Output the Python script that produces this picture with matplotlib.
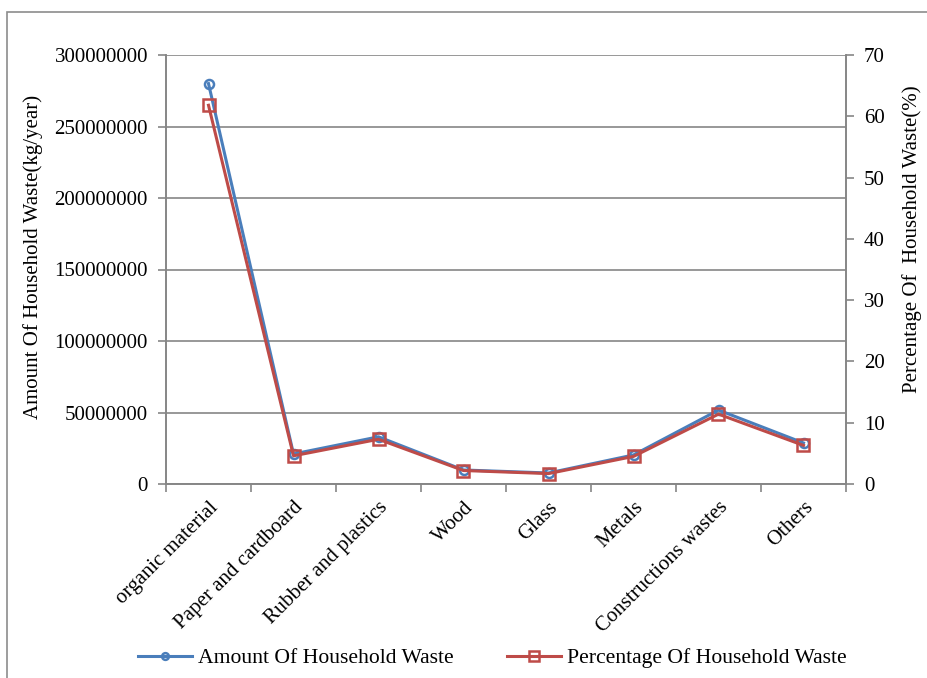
import matplotlib.pyplot as plt
from matplotlib.patches import Rectangle

plt.rcParams["font.family"] = ["Liberation Serif", "DejaVu Serif"]
plt.rcParams["font.size"] = 15

CATEGORIES = [
    "organic material",
    "Paper and cardboard",
    "Rubber and plastics",
    "Wood",
    "Glass",
    "Metals",
    "Constructions wastes",
    "Others",
]
AMOUNT_KG = [280000000, 21000000, 33000000, 9800000, 7700000, 20300000, 51700000, 28700000]
PERCENT = [61.8, 4.6, 7.3, 2.2, 1.7, 4.5, 11.4, 6.3]

AMOUNT_TICKS = [0, 50000000, 100000000, 150000000, 200000000, 250000000, 300000000]
PERCENT_TICKS = [0, 10, 20, 30, 40, 50, 60, 70]

BLUE = "#4a7ebb"
RED = "#be4b48"
GRID = "#868686"

W, H = 927, 678
fig = plt.figure(figsize=(W / 100, H / 100), dpi=100)

# outer frame, open at the right and bottom
fig.patches.append(
    Rectangle((7 / W, -0.05), 1.05, 1.05 - 12 / H, transform=fig.transFigure,
              fill=False, edgecolor="#8c8c8c", linewidth=1.2)
)

left, right, top, bottom = 166, 846, 55, 484
ax = fig.add_axes([left / W, 1 - bottom / H, (right - left) / W, (bottom - top) / H])
ax2 = ax.twinx()

x = list(range(len(CATEGORIES)))
ax.plot(x, AMOUNT_KG, color=BLUE, linewidth=2.2, marker="o", markersize=6.5,
        markerfacecolor="none", markeredgecolor=BLUE, markeredgewidth=1.8,
        label="Amount Of Household Waste", zorder=3)
ax2.plot(x, PERCENT, color=RED, linewidth=2.2, marker="s", markersize=9,
         markerfacecolor="none", markeredgecolor=RED, markeredgewidth=1.8,
         label="Percentage Of Household Waste", zorder=3)

ax.set_xlim(-0.5, len(CATEGORIES) - 0.5)
ax.set_ylim(0, 300000000)
ax2.set_ylim(0, 70)
ax.set_yticks(AMOUNT_TICKS)
ax.set_yticklabels([str(v) for v in AMOUNT_TICKS])
ax2.set_yticks(PERCENT_TICKS)

ax.set_xticks(x)
ax.set_xticklabels(CATEGORIES, rotation=45, ha="right", rotation_mode="anchor")
ax.set_xticks([i - 0.5 for i in range(len(CATEGORIES) + 1)], minor=True)
ax.tick_params(axis="x", which="major", length=0, pad=10)
ax.tick_params(axis="x", which="minor", length=6, width=1.2, color=GRID, direction="out")
ax.tick_params(axis="y", length=6, width=1.2, color=GRID, direction="out", pad=7)
ax2.tick_params(axis="y", length=6, width=1.2, color=GRID, direction="out", pad=7)

ax.grid(axis="y", color=GRID, linewidth=1.2)
ax.set_axisbelow(True)

for a in (ax, ax2):
    a.spines["top"].set_visible(False)
    for s in ("left", "right", "bottom"):
        a.spines[s].set_color(GRID)
        a.spines[s].set_linewidth(1.2)

ax.set_ylabel("Amount Of Household Waste(kg/year)")
ax2.set_ylabel("Percentage Of  Household Waste(%)")
ax.yaxis.set_label_coords((33 - left) / (right - left), 0.53)
ax2.yaxis.set_label_coords((912 - left) / (right - left), 0.57)
ax.yaxis.label.set(va="center")
ax2.yaxis.label.set(va="center")

h1, l1 = ax.get_legend_handles_labels()
h2, l2 = ax2.get_legend_handles_labels()
fig.legend(h1 + h2, l1 + l2, loc="center", bbox_to_anchor=(0.531, 1 - 658 / H),
           ncol=2, frameon=False, handlelength=2.5, handletextpad=0.25,
           columnspacing=2.5, markerscale=0.75, fontsize=15.6)

fig.savefig("out.png", dpi=100)
